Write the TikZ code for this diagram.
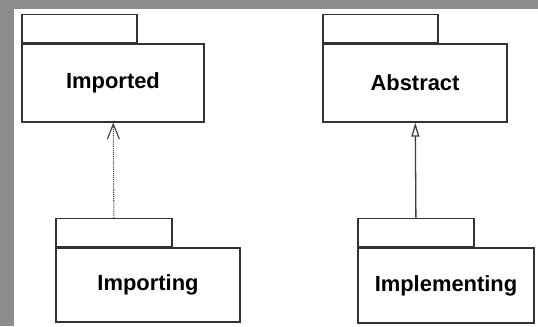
\documentclass[tikz,border=0pt]{standalone}
\usepackage{fontspec}
\setmainfont{Liberation Sans}
\usetikzlibrary{arrows.meta,positioning}

\begin{document}
\begin{tikzpicture}[x=1bp,y=-1bp,
    pkg/.style={draw=black!80, line width=1.3bp, fill=white, inner sep=0pt,
        font=\fontsize{22}{26}\selectfont\bfseries},
    tab/.style={draw=black!80, line width=1.3bp, inner sep=0pt,
        minimum width=115bp, minimum height=28bp, anchor=south west}]
        % grey frame round the sheet
        \fill[black!45] (0,0) rectangle (538,326);
        \fill[white] (14,9) rectangle (538,326);

        \node[pkg, minimum width=182bp, minimum height=78bp] (imported) at (113,83) {Imported};
        \node[tab] (importedtab) at (imported.north west) {};
        \node[pkg, minimum width=184bp, minimum height=78bp] (abstract) at (415,83) {Abstract};
        \node[tab] (abstracttab) at (abstract.north west) {};

        \node[pkg, minimum width=184bp, minimum height=74bp] (importing) at (148,285) {Importing};
        \node[tab, minimum width=116bp] (importingtab) at (importing.north west) {};
        \node[pkg, minimum width=176bp, minimum height=75bp] (implementing) at (446,285.5) {Implementing};
        \node[tab, minimum width=116bp] (implementingtab) at (implementing.north west) {};

        \draw[densely dotted, black!75, line width=1.1bp, -{Straight Barb[length=15bp,width=12bp]}] (importingtab) -- (imported);
        \draw[black!75, line width=1.3bp, -{Triangle[open,length=14bp,width=8bp]}] (implementingtab) -- (abstract);
    \end{tikzpicture}
\end{document}
